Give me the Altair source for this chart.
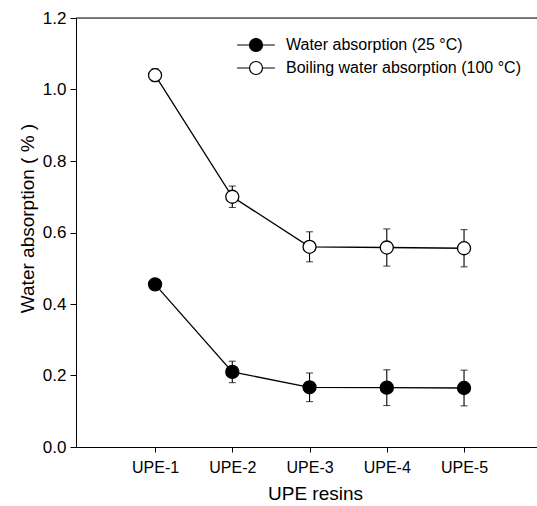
import json
import altair as alt
import pandas as pd

resins = ["UPE-1", "UPE-2", "UPE-3", "UPE-4", "UPE-5"]
series_names = ["Water absorption (25 \u00b0C)", "Boiling water absorption (100 \u00b0C)"]
water = [0.455, 0.21, 0.167, 0.166, 0.165]
water_err = [0.008, 0.03, 0.04, 0.05, 0.05]
boiling = [1.04, 0.70, 0.56, 0.558, 0.556]
boiling_err = [0.018, 0.03, 0.042, 0.052, 0.052]
y_ticks = [0.0, 0.2, 0.4, 0.6, 0.8, 1.0, 1.2]

rows = []
for name, vals, errs in [(series_names[0], water, water_err), (series_names[1], boiling, boiling_err)]:
    for r, v, e in zip(resins, vals, errs):
        rows.append({"resin": r, "series": name, "value": v, "lo": v - e, "hi": v + e})
df = pd.DataFrame(rows)

W, H = 461, 429
FONT = "Liberation Sans"

xscale = alt.Scale(type="point", domain=resins, padding=0.984, align=0.52)
yscale = alt.Scale(domain=[0, 1.2], nice=False, zero=False)

x_enc = alt.X("resin:N", scale=xscale, sort=resins,
              axis=alt.Axis(title="UPE resins", labelAngle=0, tickSize=5, labelPadding=7,
                            labelFontSize=16, titleFontSize=19, labelFont=FONT, titleFont=FONT,
                            domainColor="black", tickColor="black", labelColor="black",
                            titleColor="black", titleFontWeight="normal",
                            titleX=239, titleY=46, titleBaseline="middle", titleAlign="center",
                            grid=False))
y_enc = alt.Y("value:Q", scale=yscale,
              axis=alt.Axis(title="Water absorption ( % )", values=y_ticks, format=".1f",
                            tickSize=6, labelPadding=4, labelFontSize=17, titleFontSize=19,
                            labelFont=FONT, titleFont=FONT, domainColor="black",
                            tickColor="black", labelColor="black", titleColor="black",
                            titleFontWeight="normal", titleX=-49, titleY=200,
                            titleAngle=-90, titleBaseline="middle", titleAlign="center",
                            grid=False))

base = alt.Chart(df)

line = base.mark_line(color="black", strokeWidth=1.3).encode(
    x=x_enc, y=y_enc, detail="series:N")

err = base.mark_rule(color="black", strokeWidth=1.1).encode(
    x=alt.X("resin:N", scale=xscale, sort=resins),
    y=alt.Y("lo:Q", scale=yscale), y2="hi:Q", detail="series:N")

cap_lo = base.mark_tick(color="black", orient="horizontal", size=7, thickness=1.1).encode(
    x=alt.X("resin:N", scale=xscale, sort=resins), y=alt.Y("lo:Q", scale=yscale))
cap_hi = base.mark_tick(color="black", orient="horizontal", size=7, thickness=1.1).encode(
    x=alt.X("resin:N", scale=xscale, sort=resins), y=alt.Y("hi:Q", scale=yscale))

sym_path = ("M-2.9,0L-1,0M1,0L2.9,0"
            "M1,0A1,1 0 1,1 -1,0A1,1 0 1,1 1,0Z")

points = base.mark_point(shape="circle", filled=True, size=170, stroke="black",
                         strokeWidth=1.3, opacity=1).encode(
    x=alt.X("resin:N", scale=xscale, sort=resins),
    y=alt.Y("value:Q", scale=yscale),
    fill=alt.Fill("series:N",
                  scale=alt.Scale(domain=series_names, range=["black", "white"]),
                  legend=alt.Legend(title=None, orient="none", legendX=172, legendY=19,
                                    symbolType=sym_path, symbolSize=169,
                                    symbolStrokeColor="black", symbolStrokeWidth=1.2,
                                    labelFont=FONT, labelFontSize=16, labelColor="black",
                                    labelOffset=22, rowPadding=5, padding=0,
                                    labelLimit=400)),
)

frame_top = alt.Chart(pd.DataFrame({"a": [0]})).mark_rule(color="black", strokeWidth=1).encode(
    x=alt.value(0), x2=alt.value(W), y=alt.value(0))

chart = alt.layer(frame_top, line, err, cap_lo, cap_hi, points).properties(
    width=W, height=H,
    autosize=alt.AutoSizeParams(type="none"),
    padding={"left": 76, "top": 18, "right": 0, "bottom": 59},
).configure_view(stroke=None).configure(background="white")

chart.save("out.html", embed_options={"renderer": "svg", "actions": False})
